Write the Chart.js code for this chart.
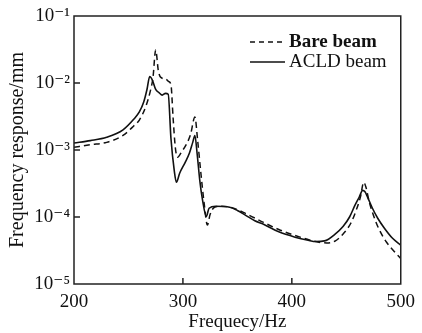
<!DOCTYPE html>
<html>
<head>
<meta charset="utf-8">
<script src="https://cdn.jsdelivr.net/npm/chart.js@4"></script>
<style>
  html, body { margin:0; padding:0; background:#fff; }
  #wrap { width:422px; height:333px; }
</style>
</head>
<body>
<div id="wrap"><canvas id="c" width="422" height="333"></canvas></div>
<script>
// frequency (Hz) and response (mm)
const bareFreq = [200,215,230,245,255,260,266,270,272.5,275,277.5,280,284,287,289,291,293,295,299,303,307,311,313.5,316.5,319.5,322.5,325,329,335,345,358,374,388,403,415,425,432,440,448,454,459,463,466,468,471,475,480,487,493,500];
const bareResp = [1.1e-3,1.2e-3,1.3e-3,1.65e-3,2.3e-3,2.8e-3,4.5e-3,7.5e-3,1.2e-2,3.1e-2,1.5e-2,1.2e-2,1.15e-2,1.05e-2,9.5e-3,3e-3,1.1e-3,7.8e-4,9.5e-4,1.2e-3,1.7e-3,3.1e-3,1.4e-3,4.5e-4,1.6e-4,7.6e-5,1.1e-4,1.4e-4,1.45e-4,1.38e-4,1.12e-4,8.3e-5,6.5e-5,5.3e-5,4.6e-5,4.2e-5,4.1e-5,4.4e-5,5.8e-5,8.0e-5,1.25e-4,2.0e-4,3.3e-4,2.8e-4,1.7e-4,1.05e-4,6.6e-5,4.2e-5,3.2e-5,2.4e-5];

const acldFreq = [200,215,230,245,255,260,264,267,269.5,272,275,278,281,284,286.5,289,292,294,297,302,306,309,311,313,315.5,318,321.5,324,330,343,350,358,366,374,388,403,415,422,430,440,447,453,458,462,465,467,470,474,479,485,492,500];
const acldResp = [1.27e-3,1.38e-3,1.55e-3,2.0e-3,2.9e-3,3.7e-3,5.2e-3,8.0e-3,1.25e-2,1.1e-2,8.0e-3,7.2e-3,6.6e-3,7.0e-3,6.8e-3,1.5e-3,5e-4,3.3e-4,4.5e-4,6.5e-4,9e-4,1.3e-3,1.65e-3,9e-4,3.5e-4,1.8e-4,1.02e-4,1.35e-4,1.45e-4,1.4e-4,1.25e-4,1.05e-4,8.8e-5,7.8e-5,6.0e-5,5.0e-5,4.5e-5,4.3e-5,4.4e-5,5.6e-5,7.2e-5,1.0e-4,1.5e-4,2.0e-4,2.5e-4,2.4e-4,1.9e-4,1.35e-4,9.5e-5,6.8e-5,4.9e-5,3.8e-5];

const xTicks = [200,300,400,500];
const yExps = [-5,-4,-3,-2,-1];
const seriesNames = ['Bare beam','ACLD beam'];

const SUP = {'-':'\u207B','0':'\u2070','1':'\u00B9','2':'\u00B2','3':'\u00B3','4':'\u2074','5':'\u2075'};
function sup(n){ return String(n).split('').map(ch => SUP[ch]).join(''); }

const serif = "'Liberation Serif', 'DejaVu Serif', serif";

// frame, inward ticks and legend
const decor = {
  id:'decor',
  afterDraw(chart){
    const {ctx, chartArea:a, scales} = chart;
    ctx.save();
    ctx.strokeStyle = '#222';
    ctx.lineWidth = 1.5;
    ctx.setLineDash([]);
    ctx.strokeRect(a.left, a.top, a.right-a.left, a.bottom-a.top);
    ctx.beginPath();
    xTicks.slice(1,-1).forEach(v => {
      const px = scales.x.getPixelForValue(v);
      ctx.moveTo(px, a.bottom); ctx.lineTo(px, a.bottom-6);
    });
    yExps.slice(1,-1).forEach(e => {
      const py = scales.y.getPixelForValue(Math.pow(10,e));
      ctx.moveTo(a.left, py); ctx.lineTo(a.left+6, py);
    });
    ctx.stroke();

    // legend
    chart.data.datasets.forEach((ds, i) => {
      const y = a.top + 26 + i*20;
      ctx.strokeStyle = ds.borderColor;
      ctx.lineWidth = 1.3;
      ctx.setLineDash(ds.borderDash ? [5,4] : []);
      ctx.beginPath(); ctx.moveTo(a.left+176, y); ctx.lineTo(a.left+211, y); ctx.stroke();
      ctx.setLineDash([]);
      ctx.fillStyle = '#111';
      ctx.font = (i === 0 ? 'bold ' : '') + '19px ' + serif;
      ctx.textBaseline = 'middle';
      ctx.fillText(ds.label, a.left+215, y);
    });
    ctx.restore();
  }
};

new Chart(document.getElementById('c'), {
  type:'line',
  data:{
    datasets:[
      { label:seriesNames[0], data:bareFreq.map((f,i) => ({x:f, y:bareResp[i]})),
        borderColor:'#111', borderWidth:1.5, borderDash:[6,4], pointRadius:0, cubicInterpolationMode:'monotone' },
      { label:seriesNames[1], data:acldFreq.map((f,i) => ({x:f, y:acldResp[i]})),
        borderColor:'#111', borderWidth:1.6, pointRadius:0, cubicInterpolationMode:'monotone' }
    ]
  },
  options:{
    responsive:false,
    animation:false,
    layout:{ padding:{ top:16, right:15, left:0, bottom:0 } },
    plugins:{ legend:{ display:false }, tooltip:{ enabled:false } },
    scales:{
      x:{
        type:'linear', min:200, max:500,
        afterBuildTicks(s){ s.ticks = xTicks.map(v => ({value:v})); },
        afterFit(s){ s.height = 49; },
        grid:{ display:false, drawTicks:false },
        border:{ display:false },
        ticks:{ padding:7, color:'#111', font:{ family:serif, size:19 }, maxRotation:0 },
        title:{ display:true, text:'Frequecy/Hz', color:'#111', font:{ family:serif, size:19 }, padding:{ top:1, bottom:0 } }
      },
      y:{
        type:'logarithmic', min:1e-5, max:1e-1,
        afterBuildTicks(s){ s.ticks = yExps.map(e => ({value:Math.pow(10,e)})); },
        afterFit(s){ s.width = 74; },
        grid:{ display:false, drawTicks:false },
        border:{ display:false },
        ticks:{ padding:4, color:'#111', font:{ family:serif, size:19 },
          callback(v){ return '10' + sup(Math.round(Math.log10(v))); } },
        title:{ display:true, text:'Frequency response/mm', color:'#111', font:{ family:serif, size:20 }, padding:{ top:6, bottom:0 } }
      }
    }
  },
  plugins:[decor]
});
</script>
</body>
</html>
